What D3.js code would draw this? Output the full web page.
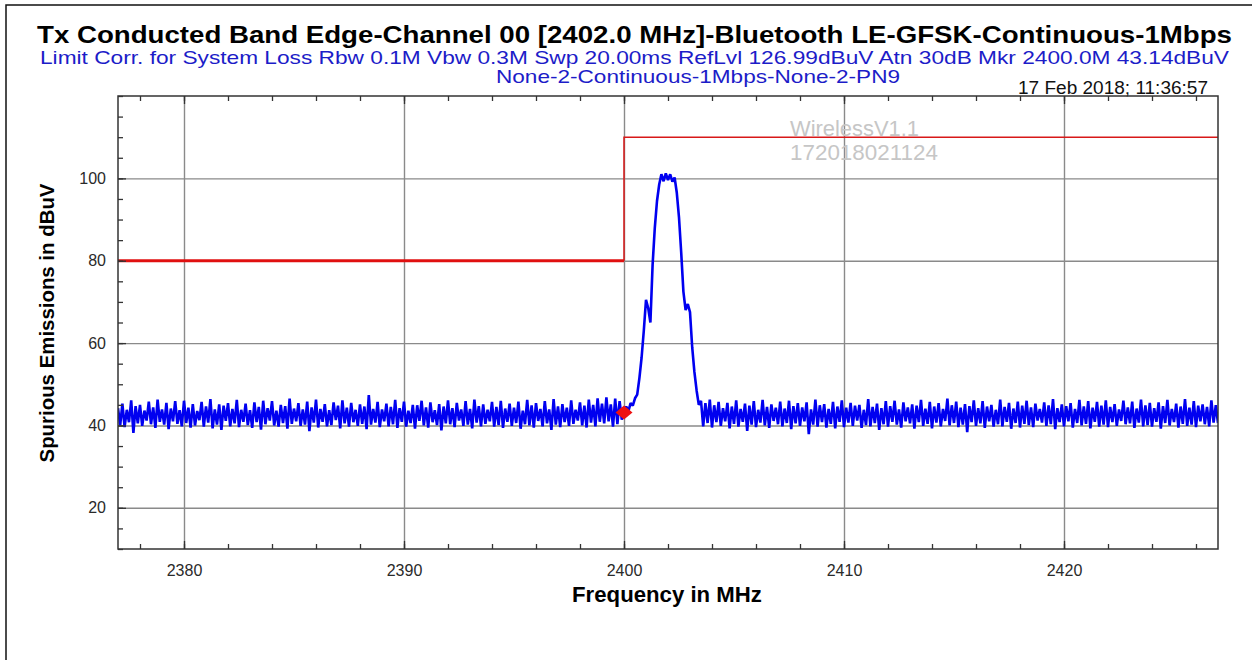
<!DOCTYPE html>
<html>
<head>
<meta charset="utf-8">
<script src="https://cdn.jsdelivr.net/npm/d3@7"></script>
<style>
  html, body { margin: 0; padding: 0; background: #fff; }
  svg { display: block; }
  text { font-family: "Liberation Sans", Arial, sans-serif; }
</style>
</head>
<body>
<svg id="chart" width="1252" height="660"></svg>
<script>
// ---------------- DATA ----------------
const titleText = "Tx Conducted Band Edge-Channel 00 [2402.0 MHz]-Bluetooth LE-GFSK-Continuous-1Mbps";
const subtitleLine1 = "Limit Corr. for System Loss Rbw 0.1M Vbw 0.3M Swp 20.00ms RefLvl 126.99dBuV Atn 30dB Mkr 2400.0M 43.14dBuV";
const subtitleLine2 = "None-2-Continuous-1Mbps-None-2-PN9";
const dateText = "17 Feb 2018; 11:36:57";
const watermarkLines = ["WirelessV1.1", "172018021124"];
const xAxisTitle = "Frequency in MHz";
const yAxisTitle = "Spurious Emissions in dBuV";

const freqDomain = [2377, 2427];
const levelDomain = [10, 120];
const xTickLabels = [2380, 2390, 2400, 2410, 2420];
const yTickLabels = [20, 40, 60, 80, 100];

const sweepStart = 2377.0;   // MHz
const sweepStep = 0.1;       // MHz per trace point

// trace levels (dBuV), 2377.0 .. 2399.9 MHz
const traceBelowBand = [
  44.2,40.1,45.3,39.6,43.8,40.8,46.1,38.2,44.7,40.5,
  45.0,39.9,43.6,41.2,45.8,40.3,44.4,39.4,46.3,40.9,
  43.9,40.2,45.5,39.1,44.1,41.0,45.9,40.4,43.7,39.8,
  46.0,40.6,44.3,39.5,45.2,40.0,43.5,41.3,45.7,39.7,
  44.6,40.7,46.4,39.3,43.9,40.2,45.1,38.9,44.8,41.1,
  45.4,39.8,44.0,40.5,46.2,39.6,43.8,40.9,45.3,40.1,
  43.7,39.4,45.6,40.8,44.5,39.0,46.0,40.3,44.2,41.2,
  45.9,40.0,43.6,39.7,45.0,40.6,44.7,39.2,46.5,40.4,
  44.1,41.0,45.4,39.9,43.9,40.2,45.8,38.6,44.4,40.7,
  46.3,39.5,44.0,40.9,45.2,39.8,43.7,40.1,45.6,41.3,
  44.8,39.3,46.1,40.5,44.3,39.7,45.5,40.8,43.8,39.9,
  45.1,40.4,44.6,39.1,47.4,40.2,44.0,40.7,45.7,39.6,
  43.9,41.0,45.3,39.8,44.5,40.3,46.2,39.4,44.2,40.9,
  45.8,39.7,43.6,40.6,45.0,39.2,44.9,41.1,46.0,40.0,
  44.4,39.5,45.6,40.8,43.7,40.1,45.2,38.8,44.6,40.5,
  46.1,40.3,44.2,39.6,45.5,41.2,43.9,39.9,45.9,40.2,
  44.0,39.3,46.3,40.7,44.7,39.8,45.1,40.4,43.8,41.0,
  45.7,39.7,44.5,40.1,46.0,39.4,44.1,40.9,45.3,39.9,
  44.3,40.6,45.8,39.2,43.6,40.3,46.2,40.0,44.9,39.5,
  45.4,41.1,44.0,39.8,45.9,40.5,43.9,38.9,46.4,40.2,
  44.6,39.6,45.2,40.8,44.3,39.9,46.1,40.4,43.8,41.2,
  45.6,40.0,44.8,39.5,46.3,40.7,45.0,39.8,46.6,40.9,
  45.3,40.5,46.8,41.0,45.1,39.7,46.5,40.3,45.9,41.4
];
// trace levels (dBuV), 2400.0 .. 2403.4 MHz (carrier)
const traceCarrier = [
  43.1,44.6,43.5,45.4,44.8,46.6,47.5,51.5,56.5,63.0,
  70.5,68.5,65.0,79.0,88.0,94.5,98.5,101.0,99.3,101.2,
  99.6,101.0,99.2,100.2,96.5,90.5,82.0,72.5,68.0,69.5,
  67.5,59.0,53.0,48.5,45.0
];
// trace levels (dBuV), 2403.5 .. 2427.0 MHz
const traceAboveBand = [
  46.0,39.8,45.4,40.6,46.3,
  39.5,44.9,40.8,45.7,39.9,44.2,41.0,45.5,39.3,44.6,
  40.4,46.1,39.7,44.0,40.9,45.3,38.7,44.8,40.2,45.9,
  39.6,43.8,40.7,46.2,40.0,44.5,39.4,45.1,41.1,44.3,
  40.3,45.8,39.8,44.1,40.6,46.0,39.1,44.7,40.5,45.4,
  39.9,44.4,41.0,45.6,37.9,43.9,40.2,46.3,39.7,44.9,
  40.8,45.2,39.5,44.0,40.4,45.7,39.3,44.6,40.9,46.1,
  39.6,44.3,40.7,45.5,39.9,44.8,41.2,45.0,39.4,43.8,
  40.1,46.4,39.8,44.5,40.6,45.3,38.9,44.2,40.3,45.9,
  39.7,44.7,40.9,46.0,40.2,43.9,39.5,45.6,41.0,44.4,
  40.5,45.1,39.2,44.8,40.8,46.2,39.9,44.1,40.4,45.7,
  39.3,44.6,40.7,45.4,39.8,44.0,41.1,46.5,40.0,44.9,
  40.6,45.8,39.6,44.3,40.2,45.2,38.4,44.7,40.8,46.1,
  39.9,44.2,40.5,45.9,39.4,44.6,41.0,45.0,39.7,43.8,
  40.3,46.3,39.8,44.5,40.9,45.5,39.2,44.1,40.6,45.8,
  39.5,44.8,40.4,46.0,40.1,44.4,39.6,45.3,41.2,44.0,
  40.7,45.6,39.9,44.9,40.3,46.4,39.1,44.2,40.8,45.1,
  39.8,44.7,41.0,45.4,39.5,44.0,40.6,46.2,40.0,44.6,
  40.4,45.9,39.3,44.3,40.9,45.7,39.7,44.8,40.2,46.1,
  39.6,44.5,40.8,45.2,39.9,43.9,41.1,46.0,40.3,44.4,
  40.5,45.8,39.4,44.1,40.7,46.3,39.8,44.9,40.1,45.5,
  39.7,44.2,40.9,45.6,39.2,44.7,40.6,46.2,40.0,44.0,
  40.8,45.3,39.5,44.6,40.4,46.4,39.9,44.3,40.2,45.9,
  39.6,44.8,41.0,45.1,40.3,44.5,39.8,46.1,40.7,44.9,
  40.6
];

// limit line: restricted band below 2400 MHz, in-band above
const limitFreqs  = [2377, 2400, 2400, 2427];
const limitLevels = [80, 80, 110, 110];

// marker
const markerFreq = 2400.0;
const markerLevel = 43.14;

// ---------------- CHART ----------------
const svg = d3.select("#chart");
const plot = { left: 118, right: 1218, top: 96, bottom: 549 };

const x = d3.scaleLinear().domain(freqDomain).range([plot.left, plot.right]);
const y = d3.scaleLinear().domain(levelDomain).range([plot.bottom, plot.top]);

function fitText(sel, target) {
  const node = sel.node();
  const fs = parseFloat(sel.attr("font-size"));
  const len = node.getComputedTextLength();
  if (len > 0) sel.attr("font-size", (fs * target / len).toFixed(2));
}
function squeezeText(sel, target) {
  sel.attr("textLength", target).attr("lengthAdjust", "spacingAndGlyphs");
}

// outer frame
svg.append("rect")
  .attr("x", 6).attr("y", 5).attr("width", 1300).attr("height", 700)
  .attr("fill", "none").attr("stroke", "#111").attr("stroke-width", 1.5);

// titles
squeezeText(svg.append("text").attr("x", 634.5).attr("y", 43)
  .attr("text-anchor", "middle").attr("font-size", 23.5).attr("font-weight", "bold")
  .attr("fill", "#000").text(titleText), 1195);

squeezeText(svg.append("text").attr("x", 634.5).attr("y", 63.5)
  .attr("text-anchor", "middle").attr("font-size", 18.5)
  .attr("fill", "#1c1cc8").text(subtitleLine1), 1189);

squeezeText(svg.append("text").attr("x", 698).attr("y", 83)
  .attr("text-anchor", "middle").attr("font-size", 18.5)
  .attr("fill", "#1c1cc8").text(subtitleLine2), 404);

const t4 = svg.append("text").attr("x", 1208).attr("y", 94)
  .attr("text-anchor", "end").attr("font-size", 13)
  .attr("fill", "#111").text(dateText);
fitText(t4, 190);

// clip
svg.append("clipPath").attr("id", "plotclip").append("rect")
  .attr("x", plot.left).attr("y", plot.top)
  .attr("width", plot.right - plot.left).attr("height", plot.bottom - plot.top);

// grid
const grid = svg.append("g");
grid.append("g").attr("transform", `translate(0,${plot.bottom})`)
  .call(d3.axisBottom(x).tickValues(xTickLabels).tickSize(-(plot.bottom - plot.top)).tickFormat(""))
  .call(g => g.select(".domain").remove())
  .call(g => g.selectAll("line").attr("stroke", "#8a8a8a").attr("stroke-width", 1.4));
grid.append("g").attr("transform", `translate(${plot.left},0)`)
  .call(d3.axisLeft(y).tickValues(yTickLabels).tickSize(-(plot.right - plot.left)).tickFormat(""))
  .call(g => g.select(".domain").remove())
  .call(g => g.selectAll("line").attr("stroke", "#8a8a8a").attr("stroke-width", 1.4));

// watermark
const wm = svg.append("g").attr("fill", "#c6c6c6");
const wm1 = wm.append("text").attr("x", 790).attr("y", 136).attr("font-size", 20).text(watermarkLines[0]);
fitText(wm1, 129);
const wm2 = wm.append("text").attr("x", 790).attr("y", 160).attr("font-size", 20).text(watermarkLines[1]);
fitText(wm2, 148);

// limit line
const limitData = limitFreqs.map((f, i) => ({ f, v: limitLevels[i] }));
const lim = svg.append("g").attr("clip-path", "url(#plotclip)");
lim.append("path")
  .datum(limitData.slice(0, 2))
  .attr("fill", "none").attr("stroke", "#e01010").attr("stroke-width", 3.2)
  .attr("d", d3.line().x(d => x(d.f)).y(d => y(d.v)));
lim.append("path")
  .datum(limitData.slice(1))
  .attr("fill", "none").attr("stroke", "#d81818").attr("stroke-width", 1.5)
  .attr("d", d3.line().x(d => x(d.f)).y(d => y(d.v)));

// trace
const levels = traceBelowBand.concat(traceCarrier, traceAboveBand);
const trace = levels.map((v, i) => ({ f: sweepStart + i * sweepStep, v }));
svg.append("path")
  .datum(trace)
  .attr("clip-path", "url(#plotclip)")
  .attr("fill", "none").attr("stroke", "#0000f0").attr("stroke-width", 2.6)
  .attr("stroke-linejoin", "bevel")
  .attr("d", d3.line().x(d => x(d.f)).y(d => y(d.v)));

// marker
svg.append("path")
  .attr("transform", `translate(${x(markerFreq)},${y(markerLevel)})`)
  .attr("d", "M-8.5,0L0,-7L8.5,0L0,7Z")
  .attr("fill", "#ee1111");

// frame around plot
svg.append("rect")
  .attr("x", plot.left).attr("y", plot.top)
  .attr("width", plot.right - plot.left).attr("height", plot.bottom - plot.top)
  .attr("fill", "none").attr("stroke", "#333").attr("stroke-width", 1.5);

// inward ticks
const xMinor = d3.range(freqDomain[0] + 1, freqDomain[1], 2);
const yMinor = d3.range(levelDomain[0], levelDomain[1] + 0.1, 5);
function styleTicks(g) {
  g.select(".domain").remove();
  g.selectAll("line").attr("stroke", "#333").attr("stroke-width", 1.3);
}
svg.append("g").attr("transform", `translate(0,${plot.bottom})`)
  .call(d3.axisBottom(x).tickValues(xMinor).tickSize(-5).tickFormat("")).call(styleTicks);
svg.append("g").attr("transform", `translate(0,${plot.bottom})`)
  .call(d3.axisBottom(x).tickValues(xTickLabels).tickSize(-8).tickFormat("")).call(styleTicks);
svg.append("g").attr("transform", `translate(0,${plot.top})`)
  .call(d3.axisTop(x).tickValues(xMinor).tickSize(-5).tickFormat("")).call(styleTicks);
svg.append("g").attr("transform", `translate(0,${plot.top})`)
  .call(d3.axisTop(x).tickValues(xTickLabels).tickSize(-8).tickFormat("")).call(styleTicks);
svg.append("g").attr("transform", `translate(${plot.left},0)`)
  .call(d3.axisLeft(y).tickValues(yMinor).tickSize(-5).tickFormat("")).call(styleTicks);
svg.append("g").attr("transform", `translate(${plot.left},0)`)
  .call(d3.axisLeft(y).tickValues(yTickLabels).tickSize(-8).tickFormat("")).call(styleTicks);

// tick labels
svg.append("g").attr("transform", `translate(0,${plot.bottom})`)
  .call(d3.axisBottom(x).tickValues(xTickLabels).tickSize(0).tickPadding(16).tickFormat(d3.format("d")))
  .call(g => g.select(".domain").remove())
  .call(g => g.selectAll("text").attr("font-size", 16).attr("fill", "#2a2a2a")
    .attr("font-family", "'Liberation Sans', Arial, sans-serif"));
svg.append("g").attr("transform", `translate(${plot.left},0)`)
  .call(d3.axisLeft(y).tickValues(yTickLabels).tickSize(0).tickPadding(12).tickFormat(d3.format("d")))
  .call(g => g.select(".domain").remove())
  .call(g => g.selectAll("text").attr("font-size", 16).attr("fill", "#2a2a2a")
    .attr("font-family", "'Liberation Sans', Arial, sans-serif"));

// axis titles
const xt = svg.append("text").attr("x", 667).attr("y", 602)
  .attr("text-anchor", "middle").attr("font-size", 17).attr("font-weight", "bold")
  .attr("fill", "#000").text(xAxisTitle);
fitText(xt, 190);
const yt = svg.append("text")
  .attr("transform", "translate(54,323) rotate(-90)")
  .attr("text-anchor", "middle").attr("font-size", 17).attr("font-weight", "bold")
  .attr("fill", "#000").text(yAxisTitle);
fitText(yt, 279);
</script>
</body>
</html>
